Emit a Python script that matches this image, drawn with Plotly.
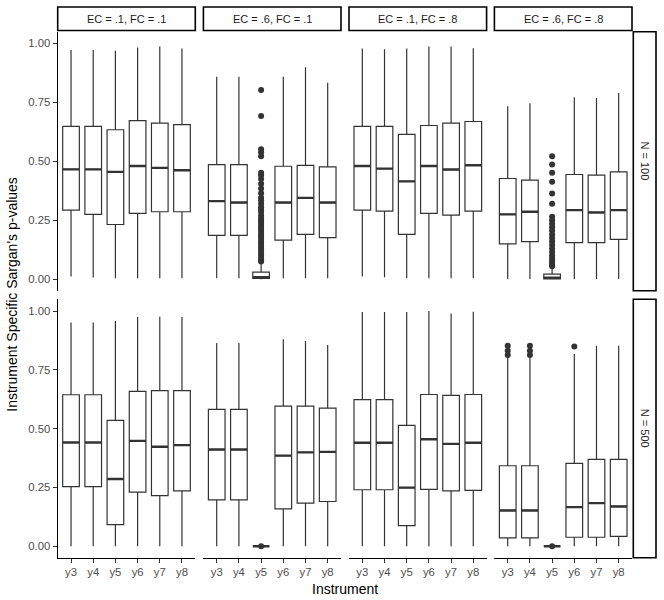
import plotly.graph_objects as go

INSTRUMENTS = ["y3", "y4", "y5", "y6", "y7", "y8"]
COL_LABELS = ["EC = .1, FC = .1", "EC = .6, FC = .1", "EC = .1, FC = .8", "EC = .6, FC = .8"]
ROW_LABELS = ["N = 100", "N = 500"]

# N = 100, one list per facet column, values for y3..y8
upper_100 = [
    [0.972, 0.972, 0.969, 0.983, 0.987, 0.979],
    [0.859, 0.859, 0.072, 0.859, 0.899, 0.833],
    [0.979, 0.976, 0.979, 0.987, 0.987, 0.980],
    [0.734, 0.746, 0.050, 0.772, 0.769, 0.790],
]
q3_100 = [
    [0.648, 0.648, 0.634, 0.673, 0.662, 0.656],
    [0.486, 0.486, 0.030, 0.479, 0.483, 0.476],
    [0.648, 0.648, 0.614, 0.652, 0.662, 0.669],
    [0.427, 0.420, 0.021, 0.444, 0.441, 0.455],
]
median_100 = [
    [0.466, 0.466, 0.455, 0.480, 0.472, 0.462],
    [0.331, 0.325, 0.008, 0.325, 0.345, 0.325],
    [0.480, 0.469, 0.415, 0.480, 0.465, 0.483],
    [0.275, 0.286, 0.006, 0.293, 0.283, 0.293],
]
q1_100 = [
    [0.293, 0.275, 0.232, 0.279, 0.286, 0.286],
    [0.186, 0.186, 0.003, 0.166, 0.190, 0.176],
    [0.293, 0.289, 0.190, 0.279, 0.272, 0.289],
    [0.150, 0.159, 0.001, 0.155, 0.155, 0.169],
]
lower_100 = [
    [0.011, 0.007, 0.004, 0.004, 0.004, 0.004],
    [0.004, 0.004, 0.000, 0.004, 0.004, 0.004],
    [0.011, 0.008, 0.004, 0.004, 0.004, 0.004],
    [0.001, 0.001, 0.000, 0.001, 0.001, 0.001],
]

# N = 500
upper_500 = [
    [0.951, 0.951, 0.958, 0.975, 0.976, 0.975],
    [0.864, 0.864, 0.000, 0.880, 0.873, 0.856],
    [0.996, 0.996, 0.996, 1.000, 0.990, 0.997],
    [0.803, 0.803, 0.000, 0.817, 0.852, 0.852],
]
q3_500 = [
    [0.644, 0.644, 0.535, 0.658, 0.662, 0.662],
    [0.582, 0.582, 0.000, 0.596, 0.596, 0.587],
    [0.623, 0.623, 0.514, 0.645, 0.641, 0.645],
    [0.342, 0.342, 0.000, 0.352, 0.369, 0.369],
]
median_500 = [
    [0.441, 0.441, 0.286, 0.448, 0.423, 0.430],
    [0.411, 0.411, 0.000, 0.385, 0.399, 0.401],
    [0.440, 0.440, 0.249, 0.455, 0.435, 0.440],
    [0.152, 0.152, 0.000, 0.166, 0.183, 0.169],
]
q1_500 = [
    [0.253, 0.253, 0.092, 0.230, 0.215, 0.235],
    [0.197, 0.197, 0.000, 0.159, 0.183, 0.190],
    [0.240, 0.240, 0.087, 0.242, 0.235, 0.237],
    [0.035, 0.035, 0.000, 0.038, 0.038, 0.042],
]
lower_500 = [
    [0.000, 0.000, 0.000, 0.000, 0.000, 0.000],
    [0.000, 0.000, 0.000, 0.000, 0.000, 0.000],
    [0.000, 0.000, 0.000, 0.000, 0.000, 0.000],
    [0.000, 0.000, 0.000, 0.000, 0.000, 0.000],
]

# outliers: (facet column, instrument) -> values
outliers_100 = {
    (1, "y5"): [0.803, 0.692, 0.551, 0.538, 0.522, 0.452, 0.441, 0.425, 0.405,
                0.385, 0.365, 0.345, 0.335, 0.320, 0.305, 0.295, 0.285, 0.270,
                0.260, 0.250, 0.240, 0.230, 0.220, 0.210, 0.200, 0.190, 0.180,
                0.170, 0.160, 0.150, 0.140, 0.130, 0.120, 0.110, 0.100, 0.090,
                0.080, 0.075],
    (3, "y5"): [0.522, 0.486, 0.452, 0.413, 0.363, 0.320, 0.265, 0.250, 0.235,
                0.220, 0.205, 0.190, 0.175, 0.160, 0.145, 0.130, 0.115, 0.100,
                0.090, 0.080, 0.070, 0.060, 0.055],
}
outliers_500 = {
    (1, "y5"): [0.0],
    (3, "y3"): [0.852, 0.831, 0.813],
    (3, "y4"): [0.852, 0.831, 0.813],
    (3, "y5"): [0.0],
    (3, "y6"): [0.849],
}

ROWS = [
    (upper_100, q3_100, median_100, q1_100, lower_100, outliers_100),
    (upper_500, q3_500, median_500, q1_500, lower_500, outliers_500),
]

W, H = 664, 600
COL_LEFT = [57.7, 203.4, 349.0, 494.4]
PANEL_W = 137.6
ROW_TOP = [31.7, 299.3]
ROW_BOT = [290.7, 557.7]
INK = "#333333"
FONT = "Liberation Sans, Arial, sans-serif"

fig = go.Figure()
layout = {}
shapes = []
annotations = []

for r, (upper, q3, med, q1, lower, outl) in enumerate(ROWS):
    for c in range(4):
        k = r * 4 + c + 1
        xa = "x" if k == 1 else f"x{k}"
        ya = "y" if k == 1 else f"y{k}"

        fig.add_trace(go.Box(
            x=INSTRUMENTS, q1=q1[c], median=med[c], q3=q3[c],
            lowerfence=lower[c], upperfence=upper[c],
            fillcolor="white", line=dict(color=INK, width=1.2),
            whiskerwidth=0, boxpoints=False, hoverinfo="skip",
            showlegend=False, xaxis=xa, yaxis=ya,
        ))
        # thicker median, like ggplot's fatten
        fig.add_trace(go.Scatter(
            x=INSTRUMENTS, y=med[c], mode="markers",
            marker=dict(symbol="line-ew", size=11.8, line=dict(color=INK, width=2.4)),
            hoverinfo="skip", showlegend=False, xaxis=xa, yaxis=ya,
        ))
        ox, oy = [], []
        for (cc, inst), vals in outl.items():
            if cc == c:
                ox += [inst] * len(vals)
                oy += vals
        if ox:
            fig.add_trace(go.Scatter(
                x=ox, y=oy, mode="markers",
                marker=dict(color=INK, size=6),
                hoverinfo="skip", showlegend=False, xaxis=xa, yaxis=ya,
            ))

        L = COL_LEFT[c]
        layout["xaxis" if k == 1 else f"xaxis{k}"] = dict(
            domain=[L / W, (L + PANEL_W) / W], anchor=ya,
            type="category", categoryorder="array", categoryarray=INSTRUMENTS,
            range=[-0.6, 5.6], showgrid=False, zeroline=False,
            showline=(r == 1), linecolor="black", linewidth=1.2,
            ticks="outside" if r == 1 else "", ticklen=4, tickcolor=INK, tickwidth=1.1,
            showticklabels=(r == 1), automargin=False,
            tickfont=dict(family=FONT, size=11.3, color="#4D4D4D"),
        )
        layout["yaxis" if k == 1 else f"yaxis{k}"] = dict(
            domain=[1 - ROW_BOT[r] / H, 1 - ROW_TOP[r] / H], anchor=xa,
            range=[-0.049, 1.05], showgrid=False, zeroline=False,
            tickvals=[0, 0.25, 0.5, 0.75, 1.0],
            ticktext=["0.00", "0.25", "0.50", "0.75", "1.00"],
            showline=(c == 0), linecolor="black", linewidth=1.2,
            ticks="outside" if c == 0 else "", ticklen=4, tickcolor=INK, tickwidth=1.1,
            showticklabels=(c == 0), automargin=False,
            tickfont=dict(family=FONT, size=11.3, color="#4D4D4D"),
        )

# column strips
for c, lab in enumerate(COL_LABELS):
    L = COL_LEFT[c]
    shapes.append(dict(type="rect", xref="paper", yref="paper",
                       x0=L / W, x1=(L + PANEL_W) / W, y0=1 - 30.5 / H, y1=1 - 7 / H,
                       fillcolor="white", line=dict(color="black", width=1.6)))
    annotations.append(dict(text=lab, xref="paper", yref="paper",
                            x=(L + PANEL_W / 2) / W, y=1 - 18.8 / H, showarrow=False,
                            xanchor="center", yanchor="middle",
                            font=dict(family=FONT, size=11, color="#1A1A1A")))

# row strips
for r, lab in enumerate(ROW_LABELS):
    shapes.append(dict(type="rect", xref="paper", yref="paper",
                       x0=633.3 / W, x1=656 / W, y0=1 - ROW_BOT[r] / H, y1=1 - ROW_TOP[r] / H,
                       fillcolor="white", line=dict(color="black", width=1.6)))
    annotations.append(dict(text=lab, xref="paper", yref="paper", textangle=90,
                            x=644.7 / W, y=1 - (ROW_TOP[r] + ROW_BOT[r]) / 2 / H, showarrow=False,
                            xanchor="center", yanchor="middle",
                            font=dict(family=FONT, size=11, color="#1A1A1A")))

annotations.append(dict(text="Instrument", xref="paper", yref="paper",
                        x=(COL_LEFT[0] + COL_LEFT[3] + PANEL_W) / 2 / W, y=1 - 589 / H,
                        xanchor="center", yanchor="middle",
                        showarrow=False, font=dict(family=FONT, size=14, color="black")))
annotations.append(dict(text="Instrument Specific Sargan's p-values", xref="paper", yref="paper",
                        x=12 / W, y=1 - (ROW_TOP[0] + ROW_BOT[1]) / 2 / H, textangle=-90,
                        xanchor="center", yanchor="middle",
                        showarrow=False, font=dict(family=FONT, size=14, color="black")))

fig.update_layout(
    width=W, height=H,
    margin=dict(l=0, r=0, t=0, b=0, autoexpand=False),
    paper_bgcolor="white", plot_bgcolor="white",
    boxgap=0.25, boxgroupgap=0, showlegend=False,
    shapes=shapes, annotations=annotations,
    **layout,
)

# page body margin would otherwise shift the figure by 8px
fig.write_html("out.html", config={"displayModeBar": False},
               post_script="document.body.style.margin='0';")
